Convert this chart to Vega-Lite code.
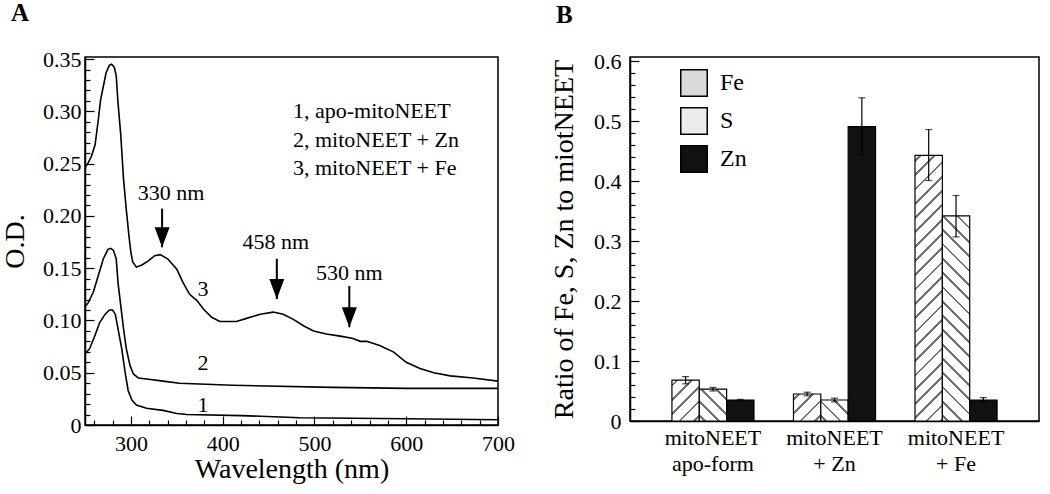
{
  "$schema": "https://vega.github.io/schema/vega-lite/v6.json",
  "background": "white",
  "padding": {"left": 0, "top": 0, "right": 0, "bottom": 0},
  "spacing": 33,
  "resolve": {"scale": {"fill": "independent"}, "legend": {"fill": "independent"}},
  "config": {
    "font": "Liberation Serif",
    "view": {"stroke": "black", "strokeWidth": 1.5},
    "axis": {
      "domainColor": "black", "domainWidth": 1.5, "tickColor": "black", "tickWidth": 1.2,
      "labelColor": "black", "titleColor": "black", "grid": false, "labelOverlap": false,
      "labelFont": "Liberation Serif", "titleFont": "Liberation Serif",
      "titleFontWeight": "normal", "labelFontSize": 22, "titleFontSize": 28
    }
  },
  "datasets": {
    "spectra": [
      {"c": 3, "wl": 250, "od": 0.246}, {"c": 3, "wl": 253.6, "od": 0.251}, {"c": 3, "wl": 257, "od": 0.257},
      {"c": 3, "wl": 261, "od": 0.268}, {"c": 3, "wl": 264.5, "od": 0.292}, {"c": 3, "wl": 267, "od": 0.311},
      {"c": 3, "wl": 270, "od": 0.324}, {"c": 3, "wl": 273, "od": 0.337}, {"c": 3, "wl": 276.5, "od": 0.344},
      {"c": 3, "wl": 279, "od": 0.345}, {"c": 3, "wl": 282, "od": 0.342}, {"c": 3, "wl": 284, "od": 0.334},
      {"c": 3, "wl": 286, "od": 0.308}, {"c": 3, "wl": 289, "od": 0.277}, {"c": 3, "wl": 292, "od": 0.235},
      {"c": 3, "wl": 295, "od": 0.206}, {"c": 3, "wl": 298, "od": 0.18}, {"c": 3, "wl": 300, "od": 0.165},
      {"c": 3, "wl": 302, "od": 0.156}, {"c": 3, "wl": 306, "od": 0.151}, {"c": 3, "wl": 312, "od": 0.153},
      {"c": 3, "wl": 319, "od": 0.157}, {"c": 3, "wl": 326, "od": 0.162}, {"c": 3, "wl": 332, "od": 0.163},
      {"c": 3, "wl": 340, "od": 0.159}, {"c": 3, "wl": 346, "od": 0.153}, {"c": 3, "wl": 350, "od": 0.149},
      {"c": 3, "wl": 357, "od": 0.136}, {"c": 3, "wl": 364, "od": 0.125}, {"c": 3, "wl": 372, "od": 0.119},
      {"c": 3, "wl": 379, "od": 0.111}, {"c": 3, "wl": 388, "od": 0.103}, {"c": 3, "wl": 397, "od": 0.099},
      {"c": 3, "wl": 415, "od": 0.099}, {"c": 3, "wl": 426, "od": 0.102}, {"c": 3, "wl": 441, "od": 0.106},
      {"c": 3, "wl": 455, "od": 0.108}, {"c": 3, "wl": 466, "od": 0.106}, {"c": 3, "wl": 477, "od": 0.101},
      {"c": 3, "wl": 488, "od": 0.095}, {"c": 3, "wl": 499, "od": 0.09}, {"c": 3, "wl": 513, "od": 0.087},
      {"c": 3, "wl": 528, "od": 0.085}, {"c": 3, "wl": 541, "od": 0.083}, {"c": 3, "wl": 550, "od": 0.08},
      {"c": 3, "wl": 557, "od": 0.08}, {"c": 3, "wl": 571, "od": 0.076}, {"c": 3, "wl": 586, "od": 0.07},
      {"c": 3, "wl": 600, "od": 0.06}, {"c": 3, "wl": 615, "od": 0.054}, {"c": 3, "wl": 630, "od": 0.05},
      {"c": 3, "wl": 648, "od": 0.047}, {"c": 3, "wl": 673, "od": 0.045}, {"c": 3, "wl": 700, "od": 0.042},
      {"c": 2, "wl": 250, "od": 0.113}, {"c": 2, "wl": 253.6, "od": 0.117}, {"c": 2, "wl": 259, "od": 0.127},
      {"c": 2, "wl": 264.5, "od": 0.143}, {"c": 2, "wl": 270, "od": 0.159}, {"c": 2, "wl": 275, "od": 0.168},
      {"c": 2, "wl": 278, "od": 0.169}, {"c": 2, "wl": 281, "od": 0.167}, {"c": 2, "wl": 284, "od": 0.159},
      {"c": 2, "wl": 286, "od": 0.136}, {"c": 2, "wl": 289, "od": 0.114}, {"c": 2, "wl": 292, "od": 0.092},
      {"c": 2, "wl": 295, "od": 0.073}, {"c": 2, "wl": 299, "od": 0.057}, {"c": 2, "wl": 302.6, "od": 0.049},
      {"c": 2, "wl": 308, "od": 0.045}, {"c": 2, "wl": 317, "od": 0.044}, {"c": 2, "wl": 335, "od": 0.042},
      {"c": 2, "wl": 353, "od": 0.04}, {"c": 2, "wl": 411, "od": 0.038}, {"c": 2, "wl": 520, "od": 0.036},
      {"c": 2, "wl": 600, "od": 0.035}, {"c": 2, "wl": 700, "od": 0.035},
      {"c": 1, "wl": 250, "od": 0.068}, {"c": 1, "wl": 255, "od": 0.073}, {"c": 1, "wl": 261, "od": 0.086},
      {"c": 1, "wl": 266, "od": 0.098}, {"c": 1, "wl": 272, "od": 0.106}, {"c": 1, "wl": 276.5, "od": 0.11},
      {"c": 1, "wl": 280, "od": 0.11}, {"c": 1, "wl": 283, "od": 0.106}, {"c": 1, "wl": 286, "od": 0.092},
      {"c": 1, "wl": 290, "od": 0.073}, {"c": 1, "wl": 293.6, "od": 0.051}, {"c": 1, "wl": 297, "od": 0.033},
      {"c": 1, "wl": 301, "od": 0.024}, {"c": 1, "wl": 306, "od": 0.019}, {"c": 1, "wl": 317, "od": 0.016},
      {"c": 1, "wl": 335, "od": 0.014}, {"c": 1, "wl": 350, "od": 0.011}, {"c": 1, "wl": 361, "od": 0.01},
      {"c": 1, "wl": 420, "od": 0.009}, {"c": 1, "wl": 484, "od": 0.007}, {"c": 1, "wl": 600, "od": 0.006},
      {"c": 1, "wl": 700, "od": 0.005}
    ],
    "keyA": [
      {"wl": 476.6, "od": 0.3006, "label": "1, apo-mitoNEET"},
      {"wl": 476.6, "od": 0.2729, "label": "2, mitoNEET + Zn"},
      {"wl": 476.6, "od": 0.2462, "label": "3, mitoNEET + Fe"}
    ],
    "labelsA": [
      {"wl": 343.7, "od": 0.222, "label": "330 nm"},
      {"wl": 458, "od": 0.175, "label": "458 nm"},
      {"wl": 538, "od": 0.145, "label": "530 nm"},
      {"wl": 378.6, "od": 0.13, "label": "3"},
      {"wl": 378.6, "od": 0.059, "label": "2"},
      {"wl": 378.6, "od": 0.0194, "label": "1"}
    ],
    "arrows": [
      {"wl": 334, "top": 0.207, "tip": 0.17},
      {"wl": 459, "top": 0.159, "tip": 0.1205},
      {"wl": 538, "top": 0.133, "tip": 0.0935}
    ],
    "metal": [
      {"sample": "apo", "element": "Fe", "ratio": 0.068, "lo": 0.062, "hi": 0.074},
      {"sample": "apo", "element": "S", "ratio": 0.053, "lo": 0.05, "hi": 0.056},
      {"sample": "apo", "element": "Zn", "ratio": 0.035, "lo": 0.034, "hi": 0.036},
      {"sample": "zn", "element": "Fe", "ratio": 0.045, "lo": 0.042, "hi": 0.048},
      {"sample": "zn", "element": "S", "ratio": 0.035, "lo": 0.032, "hi": 0.038},
      {"sample": "zn", "element": "Zn", "ratio": 0.491, "lo": 0.443, "hi": 0.539},
      {"sample": "fe", "element": "Fe", "ratio": 0.443, "lo": 0.401, "hi": 0.486},
      {"sample": "fe", "element": "S", "ratio": 0.342, "lo": 0.307, "hi": 0.376},
      {"sample": "fe", "element": "Zn", "ratio": 0.035, "lo": 0.031, "hi": 0.039}
    ]
  },
  "hconcat": [
    {
      "width": 413,
      "height": 368,
      "title": {"text": "A", "anchor": "start", "frame": "group", "dx": -74, "offset": 2, "baseline": "alphabetic", "fontSize": 25, "fontWeight": "bold", "font": "Liberation Serif", "color": "black"},
      "layer": [
        {
          "data": {"name": "spectra"},
          "mark": {"type": "line", "color": "black", "strokeWidth": 1.6, "clip": true},
          "encoding": {
            "x": {
              "field": "wl", "type": "quantitative",
              "scale": {"domain": [250, 700], "nice": false, "zero": false},
              "title": "Wavelength (nm)",
              "axis": {
                "values": [260, 280, 300, 320, 340, 360, 380, 400, 420, 440, 460, 480, 500, 520, 540, 560, 580, 600, 620, 640, 660, 680, 700],
                "tickCount": 200,
                "labelExpr": "datum.value % 100 === 0 ? datum.label : ''",
                "tickSize": {"condition": {"test": "datum.value % 100 === 0", "value": -9}, "value": -5},
                "labelOverlap": false, "labelFlush": false, "labelPadding": 17, "titlePadding": -3
              }
            },
            "y": {
              "field": "od", "type": "quantitative",
              "scale": {"domain": [0, 0.352], "nice": false},
              "title": "O.D.",
              "axis": {
                "values": [0, 0.01, 0.02, 0.03, 0.04, 0.05, 0.06, 0.07, 0.08, 0.09, 0.1, 0.11, 0.12, 0.13, 0.14, 0.15, 0.16, 0.17, 0.18, 0.19, 0.2, 0.21, 0.22, 0.23, 0.24, 0.25, 0.26, 0.27, 0.28, 0.29, 0.3, 0.31, 0.32, 0.33, 0.34, 0.35],
                "tickCount": 200,
                "labelExpr": "abs(datum.value*20 - round(datum.value*20)) < 0.000001 ? (datum.value === 0 ? '0' : format(datum.value, '.2f')) : ''",
                "tickSize": {"condition": {"test": "abs(datum.value*20 - round(datum.value*20)) < 0.000001", "value": -9}, "value": -5},
                "labelOverlap": false, "labelPadding": 13, "titlePadding": 13
              }
            },
            "detail": {"field": "c", "type": "nominal"}
          }
        },
        {
          "data": {"name": "arrows"},
          "mark": {"type": "rule", "color": "black", "strokeWidth": 2},
          "encoding": {
            "x": {"field": "wl", "type": "quantitative"},
            "y": {"field": "top", "type": "quantitative"},
            "y2": {"field": "tip"}
          }
        },
        {
          "data": {"name": "arrows"},
          "mark": {"type": "point", "shape": "M-0.75,-2L0.75,-2L0,0Z", "size": 400, "filled": true, "color": "black", "opacity": 1},
          "encoding": {
            "x": {"field": "wl", "type": "quantitative"},
            "y": {"field": "tip", "type": "quantitative"}
          }
        },
        {
          "data": {"name": "keyA"},
          "mark": {"type": "text", "align": "left", "baseline": "middle", "fontSize": 22, "font": "Liberation Serif", "color": "black"},
          "encoding": {
            "x": {"field": "wl", "type": "quantitative"},
            "y": {"field": "od", "type": "quantitative"},
            "text": {"field": "label"}
          }
        },
        {
          "data": {"name": "labelsA"},
          "mark": {"type": "text", "align": "center", "baseline": "middle", "fontSize": 22, "font": "Liberation Serif", "color": "black"},
          "encoding": {
            "x": {"field": "wl", "type": "quantitative"},
            "y": {"field": "od", "type": "quantitative"},
            "text": {"field": "label"}
          }
        }
      ]
    },
    {
      "width": 409,
      "height": 364,
      "title": {"text": "B", "anchor": "start", "frame": "group", "dx": -74, "offset": 2, "baseline": "alphabetic", "fontSize": 25, "fontWeight": "bold", "font": "Liberation Serif", "color": "black"},
      "data": {"name": "metal"},
      "encoding": {
        "x": {
          "field": "sample", "type": "nominal", "sort": ["apo", "zn", "fe"],
          "scale": {"paddingInner": 0.325, "paddingOuter": 0.345},
          "title": null,
          "axis": {
            "labelAngle": 0, "ticks": false, "labelPadding": 6, "labelLineHeight": 26,
            "labelExpr": "datum.value === 'apo' ? ['mitoNEET', 'apo-form'] : datum.value === 'zn' ? ['mitoNEET', '+ Zn'] : ['mitoNEET', '+ Fe']"
          }
        },
        "xOffset": {"field": "element", "type": "nominal", "sort": ["Fe", "S", "Zn"], "scale": {"paddingInner": 0, "paddingOuter": 0}}
      },
      "layer": [
        {
          "mark": {"type": "bar", "stroke": "black", "strokeWidth": 1.2},
          "encoding": {
            "y": {
              "field": "ratio", "type": "quantitative",
              "scale": {"domain": [0, 0.607], "nice": false},
              "title": "Ratio of Fe, S, Zn to miotNEET",
              "axis": {
                "values": [0, 0.02, 0.04, 0.06, 0.08, 0.1, 0.12, 0.14, 0.16, 0.18, 0.2, 0.22, 0.24, 0.26, 0.28, 0.3, 0.32, 0.34, 0.36, 0.38, 0.4, 0.42, 0.44, 0.46, 0.48, 0.5, 0.52, 0.54, 0.56, 0.58, 0.6],
                "tickCount": 200,
                "labelExpr": "abs(datum.value*10 - round(datum.value*10)) < 0.000001 ? (datum.value === 0 ? '0' : format(datum.value, '.1f')) : ''",
                "tickSize": {"condition": {"test": "abs(datum.value*10 - round(datum.value*10)) < 0.000001", "value": -9}, "value": -5},
                "labelOverlap": false, "labelPadding": 18, "titlePadding": 15
              }
            },
            "fill": {
              "condition": [
                {"test": "datum.sample === 'apo' && datum.element === 'Fe'", "value": {"gradient": "linear", "x1": 0, "y1": 0, "x2": 1, "y2": 1.491, "stops": [
                  {"offset": 0, "color": "#ffffff"},
                  {"offset": 0.0465, "color": "#ffffff"}, {"offset": 0.0465, "color": "#707070"}, {"offset": 0.0776, "color": "#707070"}, {"offset": 0.0776, "color": "#ffffff"},
                  {"offset": 0.2088, "color": "#ffffff"}, {"offset": 0.2088, "color": "#707070"}, {"offset": 0.2398, "color": "#707070"}, {"offset": 0.2398, "color": "#ffffff"},
                  {"offset": 0.3711, "color": "#ffffff"}, {"offset": 0.3711, "color": "#707070"}, {"offset": 0.4021, "color": "#707070"}, {"offset": 0.4021, "color": "#ffffff"},
                  {"offset": 0.5334, "color": "#ffffff"}, {"offset": 0.5334, "color": "#707070"}, {"offset": 0.5644, "color": "#707070"}, {"offset": 0.5644, "color": "#ffffff"},
                  {"offset": 0.6956, "color": "#ffffff"}, {"offset": 0.6956, "color": "#707070"}, {"offset": 0.7267, "color": "#707070"}, {"offset": 0.7267, "color": "#ffffff"},
                  {"offset": 1, "color": "#ffffff"}]}},
                {"test": "datum.sample === 'apo' && datum.element === 'S'", "value": {"gradient": "linear", "x1": 0, "y1": 1, "x2": 1, "y2": -0.162, "stops": [
                  {"offset": 0, "color": "#ffffff"},
                  {"offset": 0.0638, "color": "#ffffff"}, {"offset": 0.0638, "color": "#707070"}, {"offset": 0.1064, "color": "#707070"}, {"offset": 0.1064, "color": "#ffffff"},
                  {"offset": 0.2864, "color": "#ffffff"}, {"offset": 0.2864, "color": "#707070"}, {"offset": 0.3289, "color": "#707070"}, {"offset": 0.3289, "color": "#ffffff"},
                  {"offset": 0.5089, "color": "#ffffff"}, {"offset": 0.5089, "color": "#707070"}, {"offset": 0.5515, "color": "#707070"}, {"offset": 0.5515, "color": "#ffffff"},
                  {"offset": 0.7315, "color": "#ffffff"}, {"offset": 0.7315, "color": "#707070"}, {"offset": 0.774, "color": "#707070"}, {"offset": 0.774, "color": "#ffffff"},
                  {"offset": 1, "color": "#ffffff"}]}},
                {"test": "datum.sample === 'zn' && datum.element === 'Fe'", "value": {"gradient": "linear", "x1": 0, "y1": 0, "x2": 1.1, "y2": 1.0857, "stops": [
                  {"offset": 0, "color": "#ffffff"},
                  {"offset": 0.0691, "color": "#ffffff"}, {"offset": 0.0691, "color": "#707070"}, {"offset": 0.1152, "color": "#707070"}, {"offset": 0.1152, "color": "#ffffff"},
                  {"offset": 0.31, "color": "#ffffff"}, {"offset": 0.31, "color": "#707070"}, {"offset": 0.3561, "color": "#707070"}, {"offset": 0.3561, "color": "#ffffff"},
                  {"offset": 0.5509, "color": "#ffffff"}, {"offset": 0.5509, "color": "#707070"}, {"offset": 0.597, "color": "#707070"}, {"offset": 0.597, "color": "#ffffff"},
                  {"offset": 0.7918, "color": "#ffffff"}, {"offset": 0.7918, "color": "#707070"}, {"offset": 0.8379, "color": "#707070"}, {"offset": 0.8379, "color": "#ffffff"},
                  {"offset": 1, "color": "#ffffff"}]}},
                {"test": "datum.sample === 'zn' && datum.element === 'S'", "value": {"gradient": "linear", "x1": 0, "y1": 1, "x2": 1.2, "y2": 0.079, "stops": [
                  {"offset": 0, "color": "#ffffff"},
                  {"offset": 0.0787, "color": "#ffffff"}, {"offset": 0.0787, "color": "#707070"}, {"offset": 0.1311, "color": "#707070"}, {"offset": 0.1311, "color": "#ffffff"},
                  {"offset": 0.3529, "color": "#ffffff"}, {"offset": 0.3529, "color": "#707070"}, {"offset": 0.4054, "color": "#707070"}, {"offset": 0.4054, "color": "#ffffff"},
                  {"offset": 0.6272, "color": "#ffffff"}, {"offset": 0.6272, "color": "#707070"}, {"offset": 0.6796, "color": "#707070"}, {"offset": 0.6796, "color": "#ffffff"},
                  {"offset": 0.9014, "color": "#ffffff"}, {"offset": 0.9014, "color": "#707070"}, {"offset": 0.9539, "color": "#707070"}, {"offset": 0.9539, "color": "#ffffff"},
                  {"offset": 1, "color": "#ffffff"}]}},
                {"test": "datum.sample === 'fe' && datum.element === 'Fe'", "value": {"gradient": "linear", "x1": 0, "y1": 0, "x2": 1, "y2": 9.713, "stops": [
                  {"offset": 0, "color": "#ffffff"},
                  {"offset": 0.001573, "color": "#ffffff"}, {"offset": 0.001573, "color": "#707070"}, {"offset": 0.002622, "color": "#707070"}, {"offset": 0.002622, "color": "#ffffff"},
                  {"offset": 0.007059, "color": "#ffffff"}, {"offset": 0.007059, "color": "#707070"}, {"offset": 0.008108, "color": "#707070"}, {"offset": 0.008108, "color": "#ffffff"},
                  {"offset": 0.012545, "color": "#ffffff"}, {"offset": 0.012545, "color": "#707070"}, {"offset": 0.013594, "color": "#707070"}, {"offset": 0.013594, "color": "#ffffff"},
                  {"offset": 0.01803, "color": "#ffffff"}, {"offset": 0.01803, "color": "#707070"}, {"offset": 0.019079, "color": "#707070"}, {"offset": 0.019079, "color": "#ffffff"},
                  {"offset": 0.023516, "color": "#ffffff"}, {"offset": 0.023516, "color": "#707070"}, {"offset": 0.024565, "color": "#707070"}, {"offset": 0.024565, "color": "#ffffff"},
                  {"offset": 0.029001, "color": "#ffffff"}, {"offset": 0.029001, "color": "#707070"}, {"offset": 0.03005, "color": "#707070"}, {"offset": 0.03005, "color": "#ffffff"},
                  {"offset": 0.034487, "color": "#ffffff"}, {"offset": 0.034487, "color": "#707070"}, {"offset": 0.035536, "color": "#707070"}, {"offset": 0.035536, "color": "#ffffff"},
                  {"offset": 0.039973, "color": "#ffffff"}, {"offset": 0.039973, "color": "#707070"}, {"offset": 0.041022, "color": "#707070"}, {"offset": 0.041022, "color": "#ffffff"},
                  {"offset": 0.045458, "color": "#ffffff"}, {"offset": 0.045458, "color": "#707070"}, {"offset": 0.046507, "color": "#707070"}, {"offset": 0.046507, "color": "#ffffff"},
                  {"offset": 0.050944, "color": "#ffffff"}, {"offset": 0.050944, "color": "#707070"}, {"offset": 0.051993, "color": "#707070"}, {"offset": 0.051993, "color": "#ffffff"},
                  {"offset": 0.05643, "color": "#ffffff"}, {"offset": 0.05643, "color": "#707070"}, {"offset": 0.057479, "color": "#707070"}, {"offset": 0.057479, "color": "#ffffff"},
                  {"offset": 0.061915, "color": "#ffffff"}, {"offset": 0.061915, "color": "#707070"}, {"offset": 0.062964, "color": "#707070"}, {"offset": 0.062964, "color": "#ffffff"},
                  {"offset": 0.067401, "color": "#ffffff"}, {"offset": 0.067401, "color": "#707070"}, {"offset": 0.06845, "color": "#707070"}, {"offset": 0.06845, "color": "#ffffff"},
                  {"offset": 0.072887, "color": "#ffffff"}, {"offset": 0.072887, "color": "#707070"}, {"offset": 0.073936, "color": "#707070"}, {"offset": 0.073936, "color": "#ffffff"},
                  {"offset": 0.078372, "color": "#ffffff"}, {"offset": 0.078372, "color": "#707070"}, {"offset": 0.079421, "color": "#707070"}, {"offset": 0.079421, "color": "#ffffff"},
                  {"offset": 0.083858, "color": "#ffffff"}, {"offset": 0.083858, "color": "#707070"}, {"offset": 0.084907, "color": "#707070"}, {"offset": 0.084907, "color": "#ffffff"},
                  {"offset": 0.089343, "color": "#ffffff"}, {"offset": 0.089343, "color": "#707070"}, {"offset": 0.090392, "color": "#707070"}, {"offset": 0.090392, "color": "#ffffff"},
                  {"offset": 0.094829, "color": "#ffffff"}, {"offset": 0.094829, "color": "#707070"}, {"offset": 0.095878, "color": "#707070"}, {"offset": 0.095878, "color": "#ffffff"},
                  {"offset": 0.100315, "color": "#ffffff"}, {"offset": 0.100315, "color": "#707070"}, {"offset": 0.101364, "color": "#707070"}, {"offset": 0.101364, "color": "#ffffff"},
                  {"offset": 0.1058, "color": "#ffffff"}, {"offset": 0.1058, "color": "#707070"}, {"offset": 0.106849, "color": "#707070"}, {"offset": 0.106849, "color": "#ffffff"},
                  {"offset": 0.111286, "color": "#ffffff"}, {"offset": 0.111286, "color": "#707070"}, {"offset": 0.112335, "color": "#707070"}, {"offset": 0.112335, "color": "#ffffff"},
                  {"offset": 1, "color": "#ffffff"}]}},
                {"test": "datum.sample === 'fe' && datum.element === 'S'", "value": {"gradient": "linear", "x1": 0, "y1": 1, "x2": 1, "y2": -6.499, "stops": [
                  {"offset": 0, "color": "#ffffff"},
                  {"offset": 0.002621, "color": "#ffffff"}, {"offset": 0.002621, "color": "#707070"}, {"offset": 0.004368, "color": "#707070"}, {"offset": 0.004368, "color": "#ffffff"},
                  {"offset": 0.01176, "color": "#ffffff"}, {"offset": 0.01176, "color": "#707070"}, {"offset": 0.013507, "color": "#707070"}, {"offset": 0.013507, "color": "#ffffff"},
                  {"offset": 0.020898, "color": "#ffffff"}, {"offset": 0.020898, "color": "#707070"}, {"offset": 0.022645, "color": "#707070"}, {"offset": 0.022645, "color": "#ffffff"},
                  {"offset": 0.030037, "color": "#ffffff"}, {"offset": 0.030037, "color": "#707070"}, {"offset": 0.031784, "color": "#707070"}, {"offset": 0.031784, "color": "#ffffff"},
                  {"offset": 0.039175, "color": "#ffffff"}, {"offset": 0.039175, "color": "#707070"}, {"offset": 0.040922, "color": "#707070"}, {"offset": 0.040922, "color": "#ffffff"},
                  {"offset": 0.048314, "color": "#ffffff"}, {"offset": 0.048314, "color": "#707070"}, {"offset": 0.050061, "color": "#707070"}, {"offset": 0.050061, "color": "#ffffff"},
                  {"offset": 0.057453, "color": "#ffffff"}, {"offset": 0.057453, "color": "#707070"}, {"offset": 0.0592, "color": "#707070"}, {"offset": 0.0592, "color": "#ffffff"},
                  {"offset": 0.066591, "color": "#ffffff"}, {"offset": 0.066591, "color": "#707070"}, {"offset": 0.068338, "color": "#707070"}, {"offset": 0.068338, "color": "#ffffff"},
                  {"offset": 0.07573, "color": "#ffffff"}, {"offset": 0.07573, "color": "#707070"}, {"offset": 0.077477, "color": "#707070"}, {"offset": 0.077477, "color": "#ffffff"},
                  {"offset": 0.084868, "color": "#ffffff"}, {"offset": 0.084868, "color": "#707070"}, {"offset": 0.086615, "color": "#707070"}, {"offset": 0.086615, "color": "#ffffff"},
                  {"offset": 0.094007, "color": "#ffffff"}, {"offset": 0.094007, "color": "#707070"}, {"offset": 0.095754, "color": "#707070"}, {"offset": 0.095754, "color": "#ffffff"},
                  {"offset": 0.103146, "color": "#ffffff"}, {"offset": 0.103146, "color": "#707070"}, {"offset": 0.104893, "color": "#707070"}, {"offset": 0.104893, "color": "#ffffff"},
                  {"offset": 0.112284, "color": "#ffffff"}, {"offset": 0.112284, "color": "#707070"}, {"offset": 0.114031, "color": "#707070"}, {"offset": 0.114031, "color": "#ffffff"},
                  {"offset": 0.121422, "color": "#ffffff"}, {"offset": 0.121422, "color": "#707070"}, {"offset": 0.123169, "color": "#707070"}, {"offset": 0.123169, "color": "#ffffff"},
                  {"offset": 0.130561, "color": "#ffffff"}, {"offset": 0.130561, "color": "#707070"}, {"offset": 0.132308, "color": "#707070"}, {"offset": 0.132308, "color": "#ffffff"},
                  {"offset": 0.139699, "color": "#ffffff"}, {"offset": 0.139699, "color": "#707070"}, {"offset": 0.141446, "color": "#707070"}, {"offset": 0.141446, "color": "#ffffff"},
                  {"offset": 1, "color": "#ffffff"}]}}
              ],
              "field": "element", "type": "nominal",
              "scale": {"domain": ["Fe", "S", "Zn"], "range": ["#dadada", "#ececec", "#111111"]},
              "legend": {
                "orient": "none", "legendX": 50, "legendY": 12, "title": null, "padding": 0,
                "symbolType": "square", "symbolSize": 700, "symbolStrokeColor": "black", "symbolStrokeWidth": 1.5,
                "labelFontSize": 24, "labelFont": "Liberation Serif", "labelColor": "black", "rowPadding": 4, "labelOffset": 12,
                "encode": {
                  "symbols": {
                    "update": {
                      "stroke": {"value": "black"},
                      "strokeWidth": {"value": 1.5},
                      "fill": [
                        {"test": "datum.value === 'Fe'", "value": {"gradient": "linear", "x1": 0, "y1": 0, "x2": 1, "y2": 1, "stops": [
                          {"offset": 0, "color": "#ffffff"},
                          {"offset": 0.36, "color": "#ffffff"}, {"offset": 0.36, "color": "#707070"}, {"offset": 0.41, "color": "#707070"}, {"offset": 0.41, "color": "#ffffff"},
                          {"offset": 0.63, "color": "#ffffff"}, {"offset": 0.63, "color": "#707070"}, {"offset": 0.68, "color": "#707070"}, {"offset": 0.68, "color": "#ffffff"},
                          {"offset": 1, "color": "#ffffff"}]}},
                        {"test": "datum.value === 'S'", "value": {"gradient": "linear", "x1": 0, "y1": 1, "x2": 1, "y2": 0, "stops": [
                          {"offset": 0, "color": "#ffffff"},
                          {"offset": 0.22, "color": "#ffffff"}, {"offset": 0.22, "color": "#707070"}, {"offset": 0.27, "color": "#707070"}, {"offset": 0.27, "color": "#ffffff"},
                          {"offset": 0.49, "color": "#ffffff"}, {"offset": 0.49, "color": "#707070"}, {"offset": 0.54, "color": "#707070"}, {"offset": 0.54, "color": "#ffffff"},
                          {"offset": 0.76, "color": "#ffffff"}, {"offset": 0.76, "color": "#707070"}, {"offset": 0.81, "color": "#707070"}, {"offset": 0.81, "color": "#ffffff"},
                          {"offset": 1, "color": "#ffffff"}]}},
                        {"value": "#111111"}
                      ]
                    }
                  }
                }
              }
            }
          }
        },
        {
          "mark": {"type": "rule", "color": "black", "strokeWidth": 1.2},
          "encoding": {
            "y": {"field": "lo", "type": "quantitative"},
            "y2": {"field": "hi"}
          }
        },
        {
          "mark": {"type": "tick", "orient": "horizontal", "size": 7, "thickness": 1.2, "color": "black"},
          "encoding": {"y": {"field": "lo", "type": "quantitative"}}
        },
        {
          "mark": {"type": "tick", "orient": "horizontal", "size": 7, "thickness": 1.2, "color": "black"},
          "encoding": {"y": {"field": "hi", "type": "quantitative"}}
        }
      ]
    }
  ]
}
